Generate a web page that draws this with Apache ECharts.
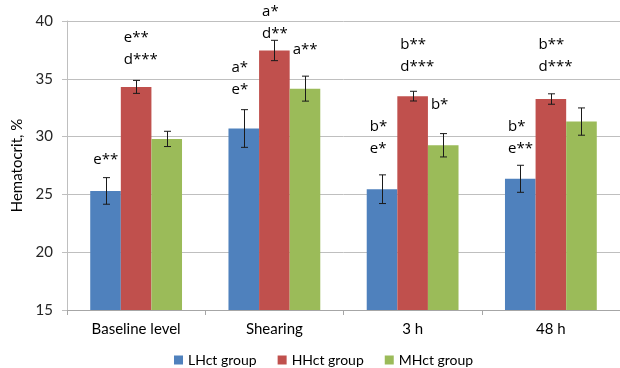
<!DOCTYPE html>
<html>
<head>
<meta charset="utf-8">
<script src="https://cdn.jsdelivr.net/npm/echarts@6/dist/echarts.min.js"></script>
<style>
html,body{margin:0;padding:0;background:#fff;}
#chart{width:620px;height:368px;}
</style>
</head>
<body>
<div id="chart"></div>
<script>
const categories = ['Baseline level', 'Shearing', '3 h', '48 h'];
const seriesNames = ['LHct group', 'HHct group', 'MHct group'];
const lhct = [25.3, 30.7, 25.45, 26.35];
const hhct = [34.3, 37.45, 33.5, 33.25];
const mhct = [29.8, 34.15, 29.25, 31.3];
const lhctErr = [1.15, 1.63, 1.24, 1.17];
const hhctErr = [0.56, 0.88, 0.42, 0.45];
const mhctErr = [0.66, 1.08, 1.01, 1.18];
const yTicks = [15, 20, 25, 30, 35, 40];
// [category index, group index, value at text bottom, text]
const annotations = [
  [0, 0, 27.1, 'e**'],
  [0, 1, 35.7, 'e**\nd***'],
  [1, 0, 33.1, 'a*\ne*'],
  [1, 1, 38.0, 'a*\nd**'],
  [1, 2, 36.6, 'a**'],
  [2, 0, 28.0, 'b*\ne*'],
  [2, 1, 35.1, 'b**\nd***'],
  [2, 2, 31.8, 'b*'],
  [3, 0, 28.0, 'b*\ne**'],
  [3, 1, 35.1, 'b**\nd***']
];

const colors = ['#4F81BD', '#C0504D', '#9BBB59'];
const values = [lhct, hhct, mhct];
const errs = [lhctErr, hhctErr, mhctErr];
const GROUP_RATIO = 0.664;
const FONT = 'Lato, "Liberation Sans", sans-serif';
const ANNO_FONT = '"Open Sans", Lato, sans-serif';

const barSeries = values.map((v, k) => ({
  name: seriesNames[k],
  type: 'bar',
  data: v,
  barGap: '0%',
  barCategoryGap: '33.6%',
  itemStyle: { color: colors[k] },
  z: 2
}));

const errorSeries = values.map((v, k) => ({
  name: 'err' + k,
  type: 'custom',
  data: v.map((val, i) => [i, val - errs[k][i], val + errs[k][i]]),
  renderItem: function (params, api) {
    const band = api.size([1, 0])[0];
    const bw = band * GROUP_RATIO / 3;
    const lo = api.coord([api.value(0), api.value(1)]);
    const hi = api.coord([api.value(0), api.value(2)]);
    const x = Math.round(lo[0] + (k - 1) * bw) + 0.5;
    const cap = 3.5;
    const st = { stroke: '#1a1a1a', lineWidth: 1 };
    return {
      type: 'group',
      children: [
        { type: 'line', shape: { x1: x, y1: hi[1], x2: x, y2: lo[1] }, style: st },
        { type: 'line', shape: { x1: x - cap, y1: hi[1], x2: x + cap, y2: hi[1] }, style: st },
        { type: 'line', shape: { x1: x - cap, y1: lo[1], x2: x + cap, y2: lo[1] }, style: st }
      ]
    };
  },
  z: 5
}));

const annoSeries = {
  name: 'annotations',
  type: 'custom',
  data: annotations.map(a => [a[0], a[2], a[1], a[3]]),
  renderItem: function (params, api) {
    const a = annotations[params.dataIndex];
    const band = api.size([1, 0])[0];
    const bw = band * GROUP_RATIO / 3;
    const p = api.coord([a[0], a[2]]);
    const x = p[0] + (a[1] - 1.5) * bw + 3;
    return {
      type: 'text',
      x: x,
      y: p[1],
      style: {
        text: a[3],
        fill: '#000',
        font: '15px ' + ANNO_FONT,
        lineHeight: 21.7,
        align: 'left',
        verticalAlign: 'bottom'
      }
    };
  },
  z: 6
};

const chart = echarts.init(document.getElementById('chart'), null, { renderer: 'canvas' });
chart.setOption({
  animation: false,
  backgroundColor: '#fff',
  textStyle: { fontFamily: FONT },
  grid: { left: 67, top: 21, width: 560, bottom: 58, containLabel: false },
  legend: {
    data: seriesNames,
    left: 169,
    top: 348,
    itemWidth: 9,
    itemHeight: 9,
    itemGap: 21,
    icon: 'rect',
    textStyle: { fontSize: 14, color: '#000', fontFamily: FONT }
  },
  xAxis: {
    type: 'category',
    data: categories,
    axisLine: { lineStyle: { color: '#a6a6a6', width: 1 } },
    axisTick: { show: true, length: 5, lineStyle: { color: '#a6a6a6' } },
    axisLabel: { fontSize: 15, color: '#000', margin: 12, fontFamily: FONT },
    splitLine: { show: false }
  },
  yAxis: {
    type: 'value',
    min: yTicks[0],
    max: yTicks[yTicks.length - 1],
    interval: 5,
    name: 'Hematocrit, %',
    nameLocation: 'middle',
    nameGap: 34,
    nameRotate: 90,
    nameTextStyle: { fontSize: 15, color: '#000', fontFamily: FONT },
    axisLine: { show: true, lineStyle: { color: '#bfbfbf' } },
    axisTick: { show: true, length: 5, lineStyle: { color: '#bfbfbf' } },
    axisLabel: { fontSize: 15, color: '#262626', margin: 14, fontFamily: FONT },
    splitLine: { show: true, lineStyle: { color: '#bfbfbf', width: 1 } }
  },
  series: [...barSeries, ...errorSeries, annoSeries]
});
</script>
</body>
</html>
